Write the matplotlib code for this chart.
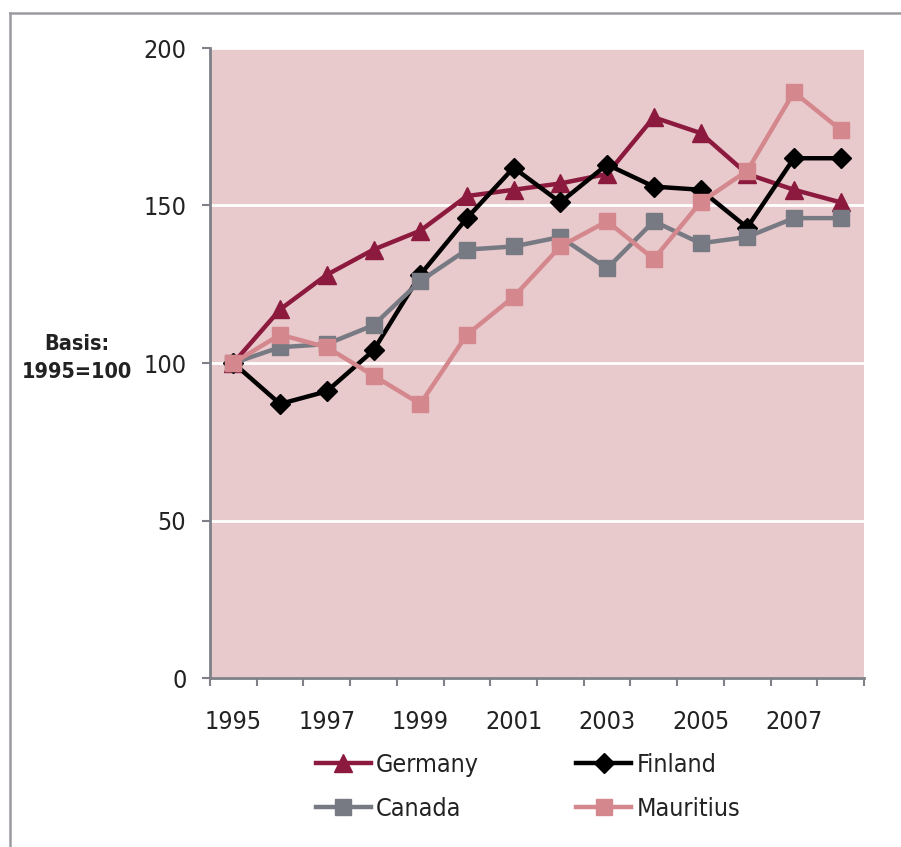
import matplotlib
matplotlib.use("Agg")
import matplotlib.pyplot as plt
from matplotlib.lines import Line2D

plt.rcParams['font.family'] = ['DejaVu Sans']
plt.rcParams['font.stretch'] = 'condensed'

years = list(range(1995, 2009))
germany = [100, 117, 128, 136, 142, 153, 155, 157, 160, 178, 173, 160, 155, 151]
finland = [100, 87, 91, 104, 128, 146, 162, 151, 163, 156, 155, 143, 165, 165]
canada = [100, 105, 106, 112, 126, 136, 137, 140, 130, 145, 138, 140, 146, 146]
mauritius = [100, 109, 105, 96, 87, 109, 121, 137, 145, 133, 151, 161, 186, 174]
series_names = ["Germany", "Finland", "Canada", "Mauritius"]
tick_years = ["1995", "1997", "1999", "2001", "2003", "2005", "2007"]

colors = {"Germany": "#8C1A3E", "Finland": "#000000",
          "Canada": "#777A83", "Mauritius": "#D4888E"}
markers = {"Germany": ("^", 13), "Finland": ("D", 10.5),
           "Canada": ("s", 11.5), "Mauritius": ("s", 11.5)}
data = {"Germany": germany, "Finland": finland,
        "Canada": canada, "Mauritius": mauritius}

W, H = 901, 847
fig = plt.figure(figsize=(W / 100, H / 100), dpi=100)
fig.patch.set_facecolor("white")

ax = fig.add_axes([210 / W, 1 - 678 / H, (864 - 210) / W, (678 - 48) / H])
ax.set_facecolor("#E8C9CC")

x = list(range(len(years)))
for name in series_names:
    m, ms = markers[name]
    ax.plot(x, data[name], color=colors[name], lw=3.2, marker=m, ms=ms,
            mec=colors[name], mfc=colors[name], label=name, zorder=3,
            clip_on=False)

ax.set_xlim(-0.5, len(years) - 0.5)
ax.set_ylim(0, 200)
ax.set_yticks([0, 50, 100, 150, 200])
ax.yaxis.grid(True, color="white", lw=2)
ax.set_axisbelow(True)

ax.set_xticks(x[::2])
ax.set_xticklabels(tick_years)
ax.set_xticks([i - 0.5 for i in range(len(years) + 1)], minor=True)

axis_gray = "#7F8088"
for s in ["top", "right"]:
    ax.spines[s].set_visible(False)
for s in ["left", "bottom"]:
    ax.spines[s].set_color(axis_gray)
    ax.spines[s].set_linewidth(2)

text_color = "#222222"
ax.tick_params(axis="y", length=6, width=1.5, color=axis_gray, pad=11,
               labelsize=18, labelcolor=text_color)
ax.tick_params(axis="x", which="major", length=0, pad=23,
               labelsize=18, labelcolor=text_color)
ax.tick_params(axis="x", which="minor", length=6, width=1.5, color=axis_gray)

fig.text(77 / W, 1 - 358 / H, "Basis:\n1995=100", ha="center", va="center",
         fontsize=15.5, fontweight="bold", color=text_color, linespacing=1.45)

handles = {n: Line2D([], [], color=colors[n], lw=3.2, marker=markers[n][0],
                     ms=markers[n][1], mec=colors[n], mfc=colors[n])
           for n in series_names}
# legend fills by column, so order entries to read row by row
leg_order = ["Germany", "Canada", "Finland", "Mauritius"]
fig.legend([handles[n] for n in leg_order], leg_order, loc="center", ncol=2,
           frameon=False, bbox_to_anchor=(528 / W, 1 - 787 / H), fontsize=18,
           handlelength=2.2, handletextpad=0.2, columnspacing=3.9,
           labelspacing=0.8, labelcolor=text_color)

# outer frame of the figure
frame_gray = "#9A9BA1"
fig.add_artist(Line2D([10 / W, 10 / W], [0, 1 - 13 / H], color=frame_gray,
                      lw=1.8, transform=fig.transFigure))
fig.add_artist(Line2D([10 / W, 1], [1 - 13 / H, 1 - 13 / H], color=frame_gray,
                      lw=1.8, transform=fig.transFigure))

fig.savefig("out.png", dpi=100, facecolor="white")
